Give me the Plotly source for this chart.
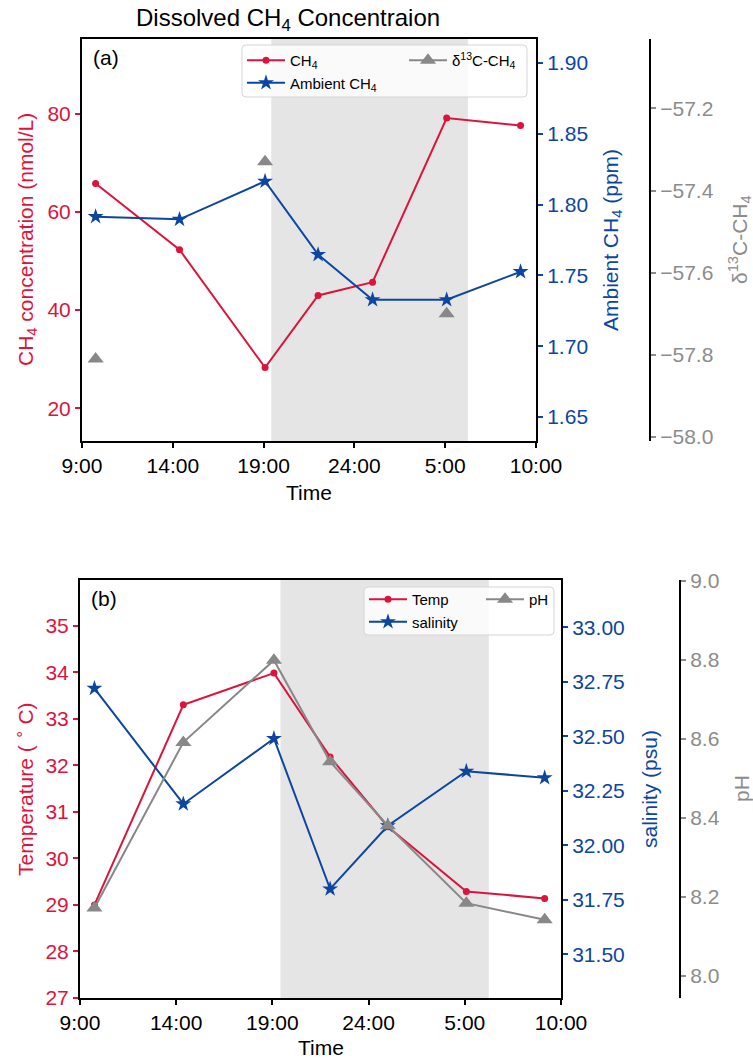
import plotly.graph_objects as go

# ---------------- data ----------------
# sampling times in hours since 0:00 of day 1 (values > 24 are on day 2)
sample_hours = [9.75, 14.37, 19.08, 22.0, 25.0, 29.08, 33.15]

ch4_conc = [65.8, 52.3, 28.3, 43.0, 45.7, 79.1, 77.6]          # nmol/L
ambient_ch4 = [1.7915, 1.7896, 1.8165, 1.7647, 1.7328, 1.7328, 1.7526]  # ppm
# isotope samples were only taken at three of the stations (None = not measured)
d13c_ch4 = [-57.81, None, -57.33, None, None, -57.70, None]

temperature = [29.0, 33.3, 33.98, 32.18, 30.68, 29.29, 29.14]  # deg C
salinity = [32.72, 32.19, 32.49, 31.80, 32.09, 32.34, 32.31]    # psu
ph = [8.172, 8.591, 8.799, 8.542, 8.380, 8.184, 8.142]

# night period (shaded)
night_start, night_end = 19.42, 30.25

time_tick_vals = [9, 14, 19, 24, 29, 34]
time_tick_text = ["9:00", "14:00", "19:00", "24:00", "5:00", "10:00"]

ch4_ticks = [20, 40, 60, 80]
ambient_ticks = [1.65, 1.70, 1.75, 1.80, 1.85, 1.90]
d13c_ticks = [-58.0, -57.8, -57.6, -57.4, -57.2]
temp_ticks = [27, 28, 29, 30, 31, 32, 33, 34, 35]
sal_ticks = [31.50, 31.75, 32.00, 32.25, 32.50, 32.75, 33.00]
ph_ticks = [8.0, 8.2, 8.4, 8.6, 8.8, 9.0]

# ---------------- styling ----------------
W, H = 753, 1060
RED = "#dc143c"
BLUE = "#0c46a0"
GREY = "#8c8c8c"
MARK_GREY = "#888888"
SHADE = "#e5e5e5"
FONT = "Arial, Liberation Sans, Helvetica, sans-serif"
TICK_SIZE = 21
TITLE_SIZE = 21
LEG_SIZE = 15


def px_x(v):
    return v / W


def px_y(v):
    return 1 - v / H


def fmt(v, nd):
    s = f"{abs(v):.{nd}f}"
    return ("\u2212" + s) if v < 0 else s


# panel frames (pixels)
A_L, A_R, A_T, A_B = 82, 536, 39, 441
B_L, B_R, B_T, B_B = 80, 561, 580, 998
A_THIRD = 650
B_THIRD = 680

fig = go.Figure()

# ---- panel (a) ----
fig.add_trace(go.Scatter(
    x=sample_hours, y=ch4_conc, mode="lines+markers", name="CH<sub>4</sub>",
    line=dict(color=RED, width=2), marker=dict(symbol="circle", size=7, color=RED),
    xaxis="x", yaxis="y", legend="legend"))
fig.add_trace(go.Scatter(
    x=sample_hours, y=ambient_ch4, mode="lines+markers", name="Ambient CH<sub>4</sub>",
    line=dict(color=BLUE, width=2), marker=dict(symbol="star", size=12, color=BLUE),
    xaxis="x", yaxis="y2", legend="legend"))
fig.add_trace(go.Scatter(
    x=sample_hours, y=d13c_ch4, mode="lines+markers", connectgaps=False,
    name="\u03b4<sup>13</sup>C-CH<sub>4</sub>",
    line=dict(color=MARK_GREY, width=2),
    marker=dict(symbol="triangle-up", size=14, color=MARK_GREY),
    xaxis="x", yaxis="y3", legend="legend2"))

# ---- panel (b) ----
fig.add_trace(go.Scatter(
    x=sample_hours, y=temperature, mode="lines+markers", name="Temp",
    line=dict(color=RED, width=2), marker=dict(symbol="circle", size=7, color=RED),
    xaxis="x2", yaxis="y4", legend="legend3"))
fig.add_trace(go.Scatter(
    x=sample_hours, y=salinity, mode="lines+markers", name="salinity",
    line=dict(color=BLUE, width=2), marker=dict(symbol="star", size=12, color=BLUE),
    xaxis="x2", yaxis="y5", legend="legend3"))
fig.add_trace(go.Scatter(
    x=sample_hours, y=ph, mode="lines+markers", name="pH",
    line=dict(color=MARK_GREY, width=2), marker=dict(symbol="triangle-up", size=14, color=MARK_GREY),
    xaxis="x2", yaxis="y6", legend="legend4"))

# night shading
for xr, yr in (("x", "y domain"), ("x2", "y4 domain")):
    fig.add_shape(type="rect", xref=xr, yref=yr, x0=night_start, x1=night_end, y0=0, y1=1,
                  fillcolor=SHADE, line=dict(width=0), layer="below")


def legend_frame(l, t, r, b, rad=4):
    """Rounded legend box in paper coordinates (pixel inputs)."""
    path = (f"M {px_x(l + rad)},{px_y(t)} L {px_x(r - rad)},{px_y(t)} "
            f"Q {px_x(r)},{px_y(t)} {px_x(r)},{px_y(t + rad)} "
            f"L {px_x(r)},{px_y(b - rad)} Q {px_x(r)},{px_y(b)} {px_x(r - rad)},{px_y(b)} "
            f"L {px_x(l + rad)},{px_y(b)} Q {px_x(l)},{px_y(b)} {px_x(l)},{px_y(b - rad)} "
            f"L {px_x(l)},{px_y(t + rad)} Q {px_x(l)},{px_y(t)} {px_x(l + rad)},{px_y(t)} Z")
    fig.add_shape(type="path", path=path, xref="paper", yref="paper",
                  fillcolor="rgba(255,255,255,0.8)", line=dict(color="#d5d5d5", width=1),
                  layer="above")


legend_frame(242, 45, 527, 97)
legend_frame(364, 587, 554, 635)

axis_common = dict(showgrid=False, zeroline=False, ticks="outside", ticklen=5, tickwidth=1.5,
                   automargin=False, tickfont=dict(family=FONT, size=TICK_SIZE))


def xaxis(dom, anchor):
    return dict(axis_common, domain=dom, anchor=anchor, range=[9, 34],
                tickvals=time_tick_vals, ticktext=time_tick_text,
                tickcolor="black", tickfont=dict(family=FONT, size=TICK_SIZE, color="black"),
                showline=True, linecolor="black", linewidth=2, mirror=True)


def yaxis(dom_or_over, rng, ticks, nd, color, side="left", anchor=None, position=None):
    d = dict(axis_common, range=rng, tickvals=ticks, ticktext=[fmt(t, nd) for t in ticks],
             tickcolor=color, tickfont=dict(family=FONT, size=TICK_SIZE, color=color),
             side=side, showline=True, linecolor="black", linewidth=2)
    if isinstance(dom_or_over, list):
        d["domain"] = dom_or_over
    else:
        d["overlaying"] = dom_or_over
    if anchor is not None:
        d["anchor"] = anchor
    if position is not None:
        d["position"] = position
    return d


def legend_box(x, y):
    return dict(x=px_x(x), y=px_y(y), xanchor="left", yanchor="top", orientation="v",
                bgcolor="rgba(0,0,0,0)", borderwidth=0, itemwidth=38,
                font=dict(family=FONT, size=LEG_SIZE, color="black"),
                tracegroupgap=0, traceorder="normal")


fig.update_layout(
    width=W, height=H, margin=dict(l=0, r=0, t=0, b=0, autoexpand=False),
    paper_bgcolor="white", plot_bgcolor="white",
    font=dict(family=FONT, size=TICK_SIZE, color="black"),
    xaxis=xaxis([px_x(A_L), px_x(A_R)], "y"),
    yaxis=yaxis([px_y(A_B), px_y(A_T)], [13.36, 95.2], ch4_ticks, 0, RED, anchor="x"),
    yaxis2=yaxis("y", [1.633, 1.917], ambient_ticks, 2, BLUE, side="right", anchor="x"),
    yaxis3=yaxis("y", [-58.01, -57.031], d13c_ticks, 1, GREY, side="right",
                 anchor="free", position=px_x(A_THIRD)),
    xaxis2=xaxis([px_x(B_L), px_x(B_R)], "y4"),
    yaxis4=yaxis([px_y(B_B), px_y(B_T)], [27, 35.98], temp_ticks, 0, RED, anchor="x2"),
    yaxis5=yaxis("y4", [31.30, 33.217], sal_ticks, 2, BLUE, side="right", anchor="x2"),
    yaxis6=yaxis("y4", [7.944, 9.002], ph_ticks, 1, GREY, side="right",
                 anchor="free", position=px_x(B_THIRD)),
    legend=legend_box(242, 44),
    legend2=legend_box(404, 44),
    legend3=legend_box(364, 583),
    legend4=legend_box(481, 583),
    showlegend=True,
)


def label(text, x, y, color="black", size=TITLE_SIZE, angle=0):
    fig.add_annotation(text=text, x=px_x(x), y=px_y(y), xref="paper", yref="paper",
                       showarrow=False, textangle=angle, xanchor="center", yanchor="middle",
                       font=dict(family=FONT, size=size, color=color))


label("Dissolved CH<sub>4</sub> Concentraion", 288, 19, size=24)
fig.add_annotation(text="(a)", x=px_x(91), y=px_y(57), xref="paper", yref="paper",
                   showarrow=False, xanchor="left", yanchor="middle",
                   font=dict(family=FONT, size=TITLE_SIZE, color="black"))
fig.add_annotation(text="(b)", x=px_x(89), y=px_y(598), xref="paper", yref="paper",
                   showarrow=False, xanchor="left", yanchor="middle",
                   font=dict(family=FONT, size=TITLE_SIZE, color="black"))

label("CH<sub>4</sub> concentration (nmol/L)", 27, 240, RED, angle=-90)
label("Ambient CH<sub>4</sub> (ppm)", 612, 240, BLUE, angle=-90)
label("\u03b4<sup>13</sup>C-CH<sub>4</sub>", 740, 240, GREY, angle=-90)
label("Time", 309, 493)

label("Temperature ( <sup>\u2218</sup> C)", 24, 789, RED, angle=-90)
label("salinity (psu)", 649, 789, BLUE, angle=-90)
label("pH", 741, 789, GREY, angle=-90)
label("Time", 321, 1047)

fig.write_html("out.html")
